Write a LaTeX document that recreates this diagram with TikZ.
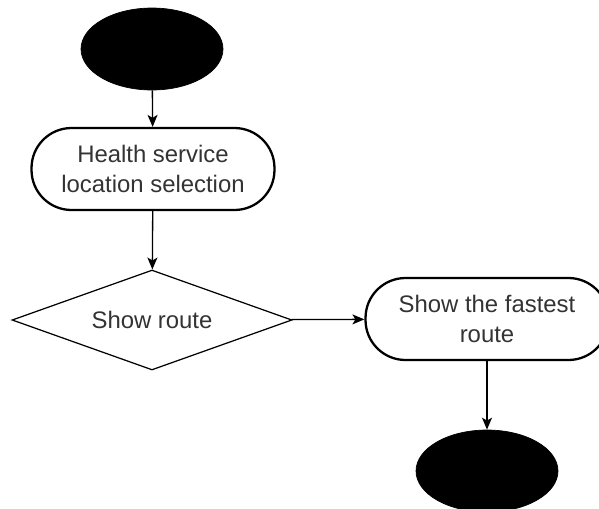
\documentclass[tikz,border=0pt]{standalone}
\usepackage{fontspec}
\setmainfont{Liberation Sans}
\usetikzlibrary{shapes,arrows.meta}

\begin{document}
\begin{tikzpicture}[x=0.02cm,y=-0.02cm,
  term/.style={ellipse,draw=black,fill=black,minimum width=2.84cm,minimum height=1.64cm},
  act/.style={rectangle,rounded corners=0.8cm,draw=black,line width=1.3pt,minimum width=4.86cm,minimum height=1.64cm,align=center,text=black!80,font=\fontsize{13.6}{16.8}\selectfont},
  dec/.style={diamond,aspect=2.8,draw=black,line width=0.7pt,minimum width=5.6cm,minimum height=2cm,inner sep=0pt,text=black!80,font=\fontsize{13.6}{16.8}\selectfont},
  flow/.style={-{Stealth[length=0.24cm,width=0.2cm,inset=0.06cm]},line width=0.75pt}]
\clip (0,0) rectangle (599,508);
\node[term] (start) at (152,49) {};
\node[act] (select) at (153,169) {Health service\\location selection};
\node[dec] (route) at (152,320) {Show route};
\node[act] (fastest) at (487,319) {Show the fastest\\route};
\node[term] (end) at (487,471) {};
\draw[flow] (start) -- (select);
\draw[flow] (select) -- (route);
\draw[flow] (route) -- (fastest);
\draw[flow] (fastest) -- (end);
\end{tikzpicture}
\end{document}
